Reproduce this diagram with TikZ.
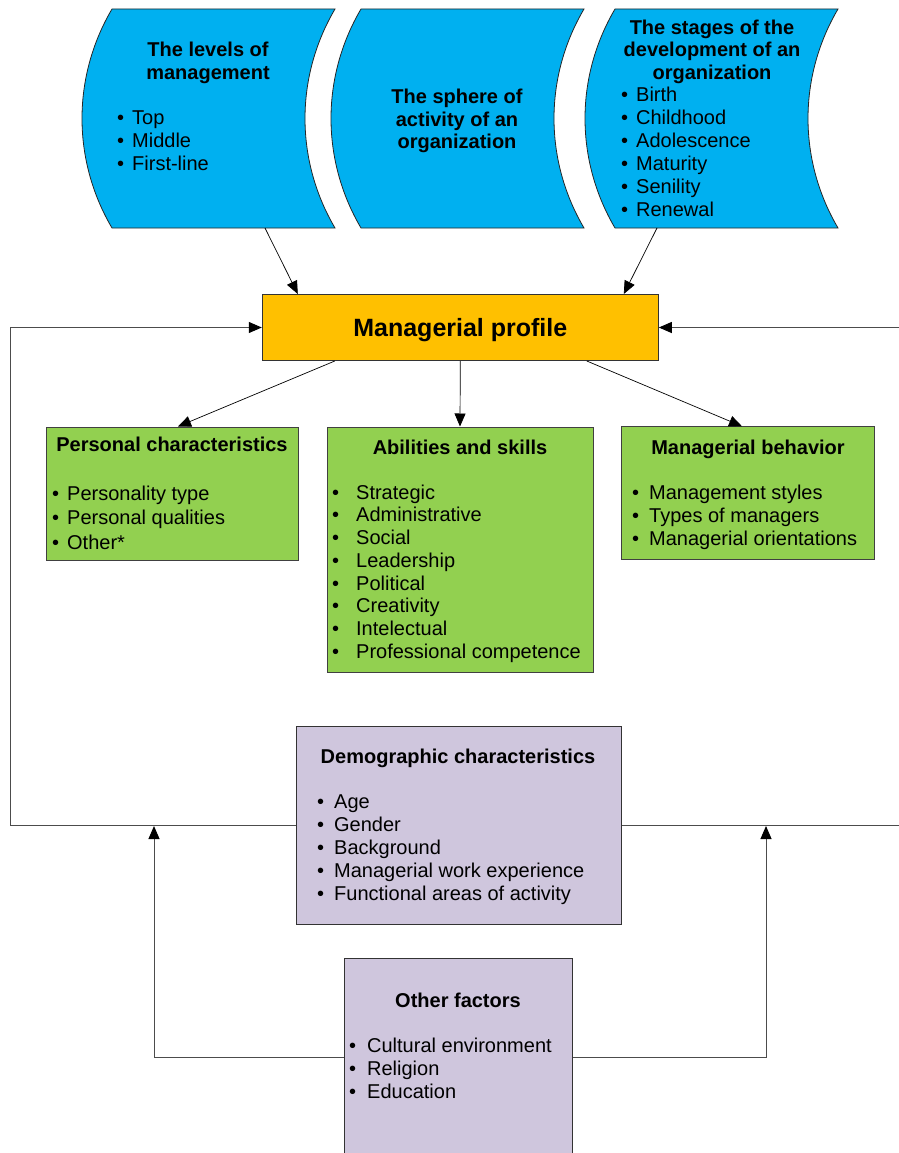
\documentclass[tikz,border=0pt]{standalone}
\usepackage{fontspec}
\setmainfont{Liberation Sans}
\usetikzlibrary{arrows.meta,calc}

\definecolor{stageblue}{HTML}{00B0F0}
\definecolor{proforange}{HTML}{FFC000}
\definecolor{skillgreen}{HTML}{92D050}
\definecolor{factlilac}{HTML}{CFC6DD}

\newcommand{\itm}[1][15pt]{\makebox[#1][l]{\textbullet}}

\begin{document}
\begin{tikzpicture}[x=1pt,y=-1pt,font=\fontsize{20}{23}\selectfont]
\tikzstyle{stage}=[fill=stageblue,draw=black!85,line width=0.8pt]
\tikzstyle{profbox}=[rectangle,fill=proforange,draw=black!80,line width=1pt,inner sep=0pt,font=\fontsize{25}{28}\selectfont\bfseries]
\tikzstyle{skillbox}=[rectangle,fill=skillgreen,draw=black!75,line width=1pt,inner sep=0pt]
\tikzstyle{factbox}=[rectangle,fill=factlilac,draw=black!80,line width=1pt,inner sep=0pt]
\tikzstyle{headtxt}=[font=\fontsize{20}{22.5}\selectfont\bfseries,align=center,inner sep=0pt]
\tikzstyle{itemlist}=[align=left,inner sep=0pt,anchor=west]
\tikzstyle{conn}=[-{Triangle[length=13pt,width=11pt,color=black]},line width=0.7pt]
\tikzstyle{fback}=[draw=black!70,line width=1pt]

\useasboundingbox (0,0) rectangle (898,1153);

% upper blocks
\foreach \xl in {112,361,615}
  \draw[stage] (\xl,9) -- (\xl+223,9)
    .. controls (\xl+183,77) and (\xl+183,160) .. (\xl+223,228)
    -- (\xl,228)
    .. controls (\xl-40,160) and (\xl-40,77) .. cycle;

\node[headtxt] (levh) at (208,63) {The levels of\\management};
\node[itemlist] (levl) at (117,140.5) {\itm Top\\\itm Middle\\\itm First-line};
\node[headtxt] (sph) at (457,121) {The sphere of\\activity of an\\organization};
\node[headtxt] (stgh) at (712,51.5) {The stages of the\\development of an\\organization};
\node[itemlist] (stgl) at (621,151.8) {\itm Birth\\\itm Childhood\\\itm Adolescence\\\itm Maturity\\\itm Senility\\\itm Renewal};

\coordinate (levb) at (265,228);
\coordinate (stgb) at (657,228);

% profile
\node[profbox,minimum width=396pt,minimum height=66pt,text height=22pt,text depth=5pt] (prof) at (460.3,327.5) {Managerial profile};

% components
\node[skillbox,minimum width=252pt,minimum height=133pt] (pers) at (172,493.5) {};
\node[headtxt] (persh) at (172,444.5) {Personal characteristics};
\node[itemlist,font=\fontsize{20}{24.5}\selectfont] (persl) at (52,517.7) {\itm Personality type\\\itm Personal qualities\\\itm Other*};

\node[skillbox,minimum width=266pt,minimum height=245pt] (abil) at (460,549.5) {};
\node[headtxt] (abilh) at (460,447.5) {Abilities and skills};
\node[itemlist,font=\fontsize{20}{22.7}\selectfont] (abill) at (332,573.5) {\itm[24pt]Strategic\\\itm[24pt]Administrative\\\itm[24pt]Social\\\itm[24pt]Leadership\\\itm[24pt]Political\\\itm[24pt]Creativity\\\itm[24pt]Intelectual\\\itm[24pt]Professional competence};

\node[skillbox,minimum width=252.6pt,minimum height=133pt] (behav) at (748,493.3) {};
\node[headtxt] (behavh) at (748,449.5) {Managerial behavior};
\node[itemlist] (behavl) at (632,517.3) {\itm[17pt]Management styles\\\itm[17pt]Types of managers\\\itm[17pt]Managerial orientations};

% factors
\node[factbox,minimum width=325pt,minimum height=198pt] (demog) at (458.5,825) {};
\node[headtxt] (demogh) at (458,758.5) {Demographic characteristics};
\node[itemlist] (demogl) at (317,849.3) {\itm[17pt]Age\\\itm[17pt]Gender\\\itm[17pt]Background\\\itm[17pt]Managerial work experience\\\itm[17pt]Functional areas of activity};

\node[factbox,minimum width=228pt,minimum height=198pt] (ofac) at (458,1057) {};
\node[headtxt] (ofach) at (458,1000) {Other factors};
\node[itemlist] (ofacl) at (349,1068.7) {\itm[18pt]Cultural environment\\\itm[18pt]Religion\\\itm[18pt]Education};

% connectors
\draw[conn] (levb) -- ($(prof.north west)+(36,0)$);
\draw[conn] (stgb) -- ($(prof.north east)+(-35,0)$);
\draw[conn] ($(prof.south west)+(73,0)$) -- ($(pers.north)+(6,0)$);
\draw[conn] (prof.south) -- (abil.north);
\draw[conn] ($(prof.south east)+(-72,0)$) -- ($(behav.north)+(-6,0)$);

\coordinate (lcol) at (10,0);
\coordinate (rcol) at (905,0);
\coordinate (lup) at (154,826);
\coordinate (rup) at (766,826);
\draw[conn,fback] (demog.west) -- (demog.west -| lcol) |- (prof.west);
\draw[conn,fback] (demog.east) -- (demog.east -| rcol) |- (prof.east);
\draw[conn,fback] (ofac.west) -| (lup);
\draw[conn,fback] (ofac.east) -| (rup);
\end{tikzpicture}
\end{document}
